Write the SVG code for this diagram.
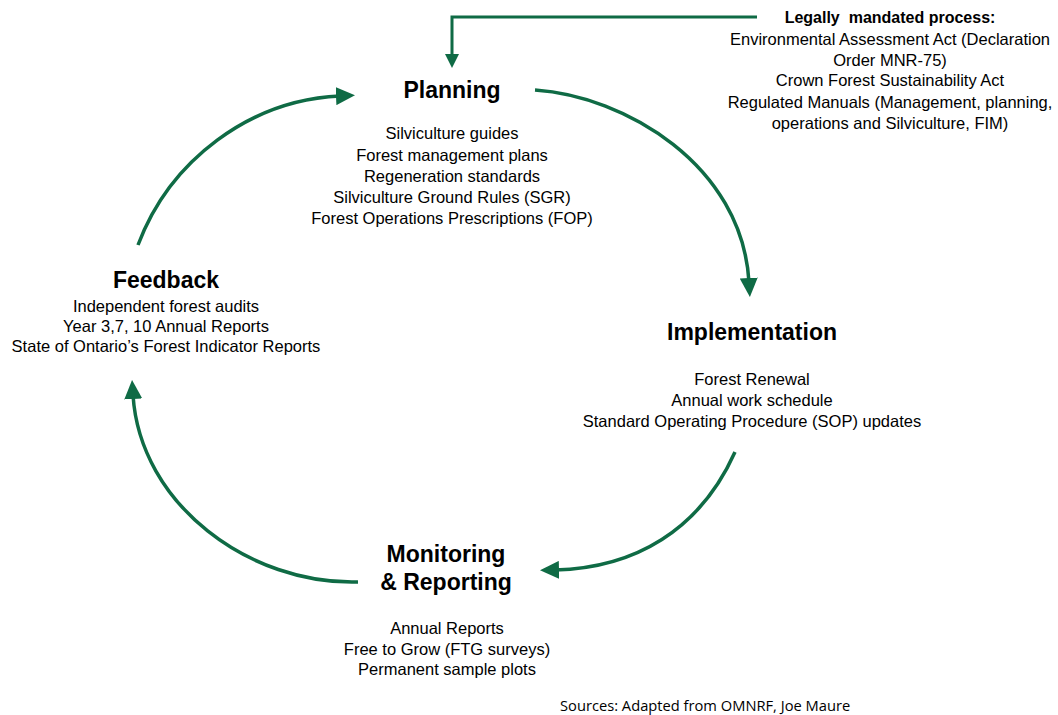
<svg xmlns="http://www.w3.org/2000/svg" width="1058" height="715" viewBox="0 0 1058 715">
<defs>
<style>
.t{font-family:"Liberation Sans",Arial,sans-serif;fill:#000;text-anchor:middle}
.h{font-size:23px;font-weight:bold}
.b{font-size:16.5px}
.lb{font-size:16px;font-weight:bold}
.src{font-family:"Open Sans","Liberation Sans",sans-serif;font-size:14.7px;fill:#000}
.c{fill:none;stroke:#0f6b45;stroke-width:3.5}
</style>
<marker id="ah" markerUnits="userSpaceOnUse" markerWidth="20" markerHeight="18" refX="4" refY="9" orient="auto">
<path d="M0,0 L19,9 L0,18 z" fill="#0f6b45"/>
</marker>
<marker id="ahs" markerUnits="userSpaceOnUse" markerWidth="14" markerHeight="14" refX="3" refY="7" orient="auto">
<path d="M0,0 L14,7 L0,14 z" fill="#0f6b45"/>
</marker>
</defs>
<rect width="1058" height="715" fill="#fff"/>
<g id="connectors">
<path class="c" style="stroke-width:3" d="M757,17 H452 V57" marker-end="url(#ahs)"/>
<path class="c" d="M535,90 C625,96 742,165 749,282" marker-end="url(#ah)"/>
<path class="c" d="M735,452 C700,530 635,568 555,570" marker-end="url(#ah)"/>
<path class="c" d="M358,582 C250,585 140,505 133,395" marker-end="url(#ah)"/>
<path class="c" d="M138,245 C170,160 250,100 340,96" marker-end="url(#ah)"/>
</g>
<g id="planning">
<text class="t h" x="452" y="98">Planning</text>
<text class="t b" x="452" y="139">Silviculture guides</text>
<text class="t b" x="452" y="161">Forest management plans</text>
<text class="t b" x="452" y="182">Regeneration standards</text>
<text class="t b" x="452" y="203">Silviculture Ground Rules (SGR)</text>
<text class="t b" x="452" y="224">Forest Operations Prescriptions (FOP)</text>
</g>
<g id="legal">
<text class="t lb" x="890" y="23" xml:space="preserve">Legally  mandated process:</text>
<text class="t b" x="890" y="45">Environmental Assessment Act (Declaration</text>
<text class="t b" x="890" y="66">Order MNR-75)</text>
<text class="t b" x="890" y="86">Crown Forest Sustainability Act</text>
<text class="t b" x="890" y="108">Regulated Manuals (Management, planning,</text>
<text class="t b" x="890" y="129">operations and Silviculture, FIM)</text>
</g>
<g id="implementation">
<text class="t h" x="752" y="340">Implementation</text>
<text class="t b" x="752" y="385">Forest Renewal</text>
<text class="t b" x="752" y="406">Annual work schedule</text>
<text class="t b" x="752" y="427">Standard Operating Procedure (SOP) updates</text>
</g>
<g id="monitoring">
<text class="t h" x="446" y="562">Monitoring</text>
<text class="t h" x="446" y="590">&amp; Reporting</text>
<text class="t b" x="447" y="634">Annual Reports</text>
<text class="t b" x="447" y="655">Free to Grow (FTG surveys)</text>
<text class="t b" x="447" y="675">Permanent sample plots</text>
</g>
<g id="feedback">
<text class="t h" x="166" y="288">Feedback</text>
<text class="t b" x="166" y="312">Independent forest audits</text>
<text class="t b" x="166" y="332">Year 3,7, 10 Annual Reports</text>
<text class="t b" x="166" y="352">State of Ontario’s Forest Indicator Reports</text>
</g>
<g id="sources">
<text class="src" x="560" y="711">Sources: Adapted from OMNRF, Joe Maure</text>
</g>
</svg>
